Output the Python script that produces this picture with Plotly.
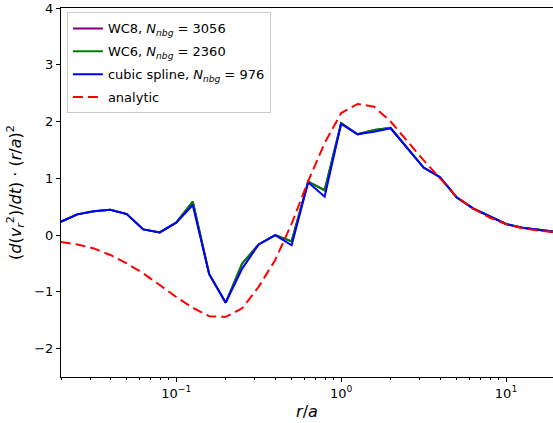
import numpy as np
import plotly.graph_objects as go

# radius grid r/a (log-spaced)
log_r = [-1.7 + 0.1 * k for k in range(31)]
r = [round(10 ** v, 5) for v in log_r]

wc8 = [0.235, 0.365, 0.42, 0.445, 0.37, 0.10, 0.047, 0.22, 0.59, -0.69, -1.19,
       -0.50, -0.165, 0.0, -0.11, 0.94, 0.79, 1.97, 1.775, 1.85, 1.89, 1.53,
       1.19, 1.02, 0.665, 0.47, 0.335, 0.195, 0.13, 0.09, 0.055]
wc6 = [0.235, 0.365, 0.42, 0.445, 0.37, 0.10, 0.047, 0.22, 0.59, -0.69, -1.19,
       -0.50, -0.165, 0.0, -0.11, 0.94, 0.79, 1.97, 1.775, 1.85, 1.89, 1.53,
       1.19, 1.02, 0.665, 0.47, 0.335, 0.195, 0.13, 0.09, 0.055]
spline = [0.235, 0.365, 0.42, 0.445, 0.37, 0.10, 0.047, 0.22, 0.53, -0.69, -1.19,
          -0.59, -0.165, 0.0, -0.18, 0.93, 0.675, 1.96, 1.775, 1.82, 1.88, 1.53,
          1.19, 1.02, 0.665, 0.47, 0.335, 0.195, 0.13, 0.09, 0.055]
analytic = [-0.12, -0.165, -0.235, -0.35, -0.5, -0.675, -0.88, -1.09, -1.28, -1.43,
            -1.44, -1.29, -0.91, -0.44, 0.2, 0.95, 1.62, 2.15, 2.31, 2.26, 2.0,
            1.65, 1.32, 1.0, 0.675, 0.47, 0.31, 0.195, 0.12, 0.077, 0.05]

names = ["WC8, <i>N</i><sub><i>nbg</i></sub> = 3056",
         "WC6, <i>N</i><sub><i>nbg</i></sub> = 2360",
         "cubic spline, <i>N</i><sub><i>nbg</i></sub> = 976",
         "analytic"]

fig = go.Figure()
fig.add_trace(go.Scatter(x=r, y=wc8, mode="lines", name=names[0], legendgroup="a",
                         line=dict(color="#800080", width=2)))
fig.add_trace(go.Scatter(x=r, y=wc6, mode="lines", name=names[1], legendgroup="b",
                         line=dict(color="#008000", width=2)))
fig.add_trace(go.Scatter(x=r, y=spline, mode="lines", name=names[2], legendgroup="c",
                         line=dict(color="#0000ff", width=2)))
fig.add_trace(go.Scatter(x=r, y=analytic, mode="lines", name=names[3], legendgroup="d",
                         line=dict(color="#ff0000", width=2, dash="10px,5px")))

minor_vals = []
for d in [0.01, 0.1, 1, 10]:
    for m in range(2, 10):
        v = d * m
        if 0.02 <= v <= 20:
            minor_vals.append(v)

fig.update_layout(
    width=553, height=423,
    margin=dict(l=61, r=0, t=8, b=46),
    paper_bgcolor="white", plot_bgcolor="white",
    font=dict(family="DejaVu Sans", size=13, color="black"),
    showlegend=True,
    legend=dict(x=0.012, y=0.988, xanchor="left", yanchor="top",
                bgcolor="rgba(255,255,255,0.8)", bordercolor="#cccccc", borderwidth=1,
                font=dict(size=13), tracegroupgap=3, itemwidth=30),
)
fig.update_xaxes(
    type="log", range=[np.log10(0.02), 1.285],
    showgrid=False, zeroline=False,
    showline=True, linecolor="black", linewidth=1, mirror=True,
    ticks="outside", ticklen=4, tickcolor="black",
    tickvals=[0.1, 1, 10],
    ticktext=["10<sup>−1</sup>", "10<sup>0</sup>", "10<sup>1</sup>"],
    minor=dict(ticks="outside", ticklen=2, tickcolor="black", tickvals=minor_vals, showgrid=False),
    title=dict(text="<i>r</i>/<i>a</i>", standoff=6),
)
fig.update_yaxes(
    range=[-2.5, 4],
    showgrid=False, zeroline=False,
    showline=True, linecolor="black", linewidth=1, mirror=True,
    ticks="outside", ticklen=4, tickcolor="black",
    tickvals=[-2, -1, 0, 1, 2, 3, 4],
    ticktext=["−2", "−1", "0", "1", "2", "3", "4"],
    title=dict(text="(<i>d</i>(<i>v</i><sub><i>r</i></sub><sup>2</sup>)/<i>dt</i>) · (<i>r</i>/<i>a</i>)<sup>2</sup>",
               standoff=8),
)

fig.write_html("out.html", config={"displayModeBar": False},
               post_script="document.body.style.margin='0';document.body.style.overflow='hidden';")
